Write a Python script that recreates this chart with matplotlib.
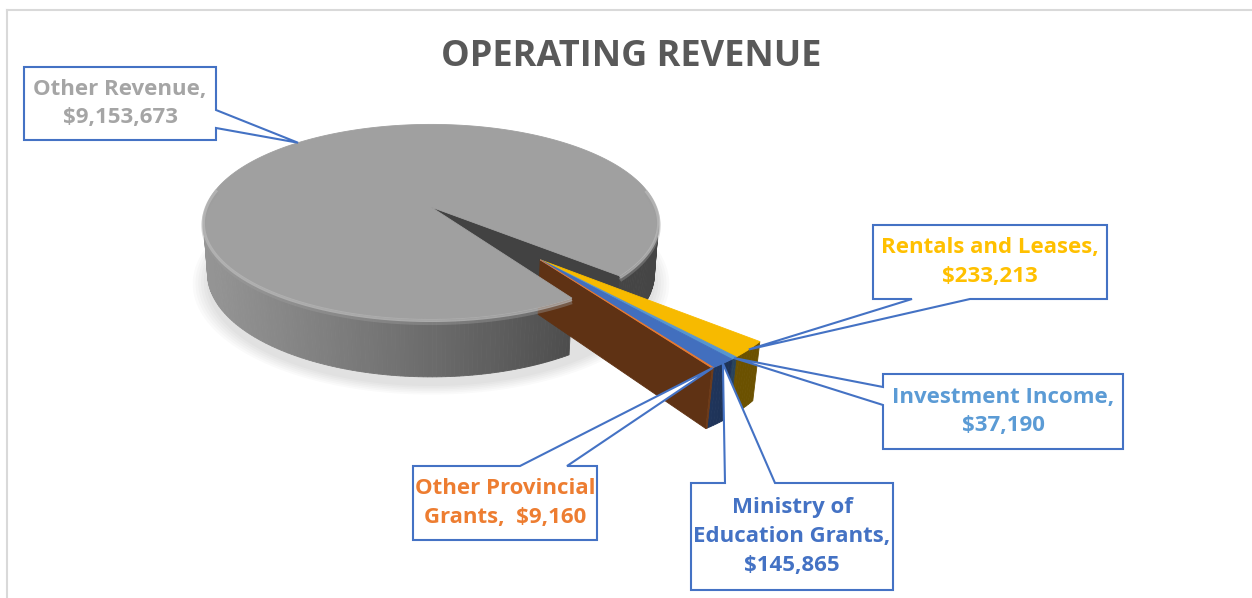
import numpy as np
import matplotlib.pyplot as plt
from matplotlib.patches import Polygon
from matplotlib.colors import to_rgb

# data, in the order Excel plots it (clockwise from the first slice angle)
categories = ["Ministry of Education Grants", "Other Provincial Grants", "Other Revenue",
              "Rentals and Leases", "Investment Income"]
values = [145865, 9160, 9153673, 233213, 37190]
colors = ["#4472C4", "#ED7D31", "#A5A5A5", "#FFC000", "#5B9BD5"]
label_colors = ["#4472C4", "#ED7D31", "#A5A5A5", "#FFC000", "#5B9BD5"]
label_fmt = ["Ministry of\nEducation Grants,\n{}", "Other Provincial\nGrants,  {}",
             "Other Revenue,\n{}", "Rentals and Leases,\n{}", "Investment Income,\n{}"]
explode = [0.68, 0.68, 0.0, 0.68, 0.68]
first_slice_angle = 141  # degrees clockwise from 12 o'clock

# callout boxes (pixels): box, side of the pointer, pointer base
boxes = [((691, 483, 893, 590), "top", (725, 775)),
         ((413, 466, 597, 540), "top", (520, 567)),
         ((24, 67, 216, 140), "right", (110, 128)),
         ((873, 225, 1107, 299), "bottom", (912, 970)),
         ((883, 374, 1123, 449), "left", (387, 405))]

W, HGT = 1252, 598
fig = plt.figure(figsize=(W / 100, HGT / 100), dpi=100)
ax = fig.add_axes([0, 0, 1, 1])
ax.set_xlim(0, W)
ax.set_ylim(HGT, 0)
ax.axis("off")

# simple perspective camera
CX, CY = 431, 207
F, D = 1350, 6.0
elev = np.radians(25)
S, C = np.sin(elev), np.cos(elev)
DEPTH = 0.256
CAM = np.array([0, -D * C, D * S])


def proj(X, Y, Z):
    d = D + Y * C - Z * S
    return CX + F * X / d, CY - F * (Y * S + Z * C) / d


def shade(col, k):
    r, g, b = to_rgb(col)
    return (min(r * k, 1), min(g * k, 1), min(b * k, 1))


def wall_factor(phi):
    return max(0.42, 0.58 + 0.35 * (-0.9 * np.cos(phi) - 0.2 * np.sin(phi)))


def visible(normal, point):
    return np.dot(normal, CAM - np.asarray(point)) > 0


frac = np.array(values) / sum(values)
cum = np.concatenate([[0], np.cumsum(frac)])
start = np.radians(90 - first_slice_angle)
a_hi = start - 2 * np.pi * cum[:-1]
a_lo = start - 2 * np.pi * cum[1:]
n = len(values)

# exploded slices move away from the big slice
big = int(np.argmax(values))
ex_dir = (a_hi[big] + a_lo[big]) / 2 + np.pi
offsets = [(e * np.cos(ex_dir), e * np.sin(ex_dir)) for e in explode]

# faint shadow under the pie
t = np.linspace(0, 2 * np.pi, 200)
for k in range(6):
    rr = 1.0 + 0.012 * k
    xs, ys = proj(rr * np.cos(t), rr * np.sin(t) - 0.03, -DEPTH)
    ax.add_patch(Polygon(np.column_stack([xs, ys + 5]), closed=True,
                         fc="black", ec="none", alpha=0.018, zorder=1))


def slice_depth(i):
    ox, oy = offsets[i]
    m = (a_hi[i] + a_lo[i]) / 2
    return D + (oy + np.sin(m)) * C


order = sorted(range(n), key=lambda i: (explode[i] > 0, -slice_depth(i)))
arcs = {}

# pass 1: side walls
z = 2
for i in order:
    ox, oy = offsets[i]
    col = colors[i]
    steps = max(2, int(np.ceil(np.degrees(a_hi[i] - a_lo[i]))) + 1)
    arc = np.linspace(a_hi[i], a_lo[i], steps)
    arcs[i] = arc
    faces = []
    for p0, p1 in zip(arc[:-1], arc[1:]):
        pm = (p0 + p1) / 2
        nrm = np.array([np.cos(pm), np.sin(pm), 0])
        pt = [ox + np.cos(pm), oy + np.sin(pm), -DEPTH / 2]
        if not visible(nrm, pt):
            continue
        qx, qy = proj(np.array([ox + np.cos(p0), ox + np.cos(p1), ox + np.cos(p1), ox + np.cos(p0)]),
                      np.array([oy + np.sin(p0), oy + np.sin(p1), oy + np.sin(p1), oy + np.sin(p0)]),
                      np.array([0, 0, -DEPTH, -DEPTH]))
        dpt = D + pt[1] * C - pt[2] * S
        faces.append((dpt, np.column_stack([qx, qy]), shade(col, wall_factor(pm))))
    # radial walls, only where the neighbour is split off
    for phi, nb, sgn in ((a_hi[i], (i - 1) % n, 1), (a_lo[i], (i + 1) % n, -1)):
        if explode[nb] == explode[i]:
            continue
        nrm = sgn * np.array([-np.sin(phi), np.cos(phi), 0])
        pt = [ox + 0.5 * np.cos(phi), oy + 0.5 * np.sin(phi), -DEPTH / 2]
        if not visible(nrm, pt):
            continue
        qx, qy = proj(np.array([ox, ox + np.cos(phi), ox + np.cos(phi), ox]),
                      np.array([oy, oy + np.sin(phi), oy + np.sin(phi), oy]),
                      np.array([0, 0, -DEPTH, -DEPTH]))
        dpt = D + pt[1] * C - pt[2] * S
        faces.append((dpt, np.column_stack([qx, qy]), shade(col, 0.4)))
    faces.sort(key=lambda f: -f[0])
    for _, poly, fc in faces:
        ax.add_patch(Polygon(poly, closed=True, fc=fc, ec=fc, lw=0.6, zorder=z))
    z += 0.01

# pass 2: top faces, the whole slice last so it hides the split-off walls near the centre
for i in sorted(order, key=lambda i: explode[i] == 0):
    ox, oy = offsets[i]
    arc = arcs[i]
    tx, ty = proj(np.concatenate([[ox], ox + np.cos(arc)]),
                  np.concatenate([[oy], oy + np.sin(arc)]), 0)
    top_col = shade(colors[i], 0.97)
    ax.add_patch(Polygon(np.column_stack([tx, ty]), closed=True, fc=top_col, ec=top_col,
                         lw=0.6, zorder=z))
    if explode[i] == 0:
        # bevel highlight along the front rim, split into runs
        mask = np.sin(arc) < 0.2
        runs = np.split(np.arange(len(arc)), np.where(np.diff(mask.astype(int)) != 0)[0] + 1)
        for r in runs:
            if len(r) < 2 or not mask[r[0]]:
                continue
            fa = arc[r]
            hx, hy = proj(ox + np.cos(fa), oy + np.sin(fa), 0)
            ax.plot(hx, hy + 1.5, color=shade(colors[i], 1.12), lw=2.2, alpha=0.75,
                    zorder=z + 0.005, solid_capstyle="butt")
            ax.plot(hx, hy + 4, color=shade(colors[i], 0.95), lw=3, alpha=0.4,
                    zorder=z + 0.004, solid_capstyle="butt")
    z += 0.01


def callout(box, side, base, tip, text, color):
    x0, y0, x1, y1 = box
    b0, b1 = base
    tx, ty = tip
    if side == "top":
        pts = [(x0, y0), (b0, y0), (tx, ty), (b1, y0), (x1, y0), (x1, y1), (x0, y1)]
    elif side == "bottom":
        pts = [(x0, y0), (x1, y0), (x1, y1), (b1, y1), (tx, ty), (b0, y1), (x0, y1)]
    elif side == "left":
        pts = [(x0, y0), (x1, y0), (x1, y1), (x0, y1), (x0, b1), (tx, ty), (x0, b0)]
    else:
        pts = [(x0, y0), (x1, y0), (x1, b0), (tx, ty), (x1, b1), (x1, y1), (x0, y1)]
    ax.add_patch(Polygon(pts, closed=True, fc="white", ec="#4472C4", lw=1.5, zorder=10))
    ax.text((x0 + x1) / 2, (y0 + y1) / 2, text, ha="center", va="center",
            multialignment="center", fontsize=16, fontweight="bold", color=color,
            family=["Open Sans", "DejaVu Sans"], linespacing=1.5, zorder=11)


for i in range(n):
    ox, oy = offsets[i]
    m = (a_hi[i] + a_lo[i]) / 2
    tip = proj(ox + np.cos(m), oy + np.sin(m), 0)
    box, side, base = boxes[i]
    callout(box, side, base, tip, label_fmt[i].format(f"${values[i]:,}"), label_colors[i])

ax.text(631, 57, "OPERATING REVENUE", ha="center", va="center", fontsize=26,
        fontweight="bold", color="#595959", family=["Open Sans", "DejaVu Sans"])

# chart area border (only top and left show)
ax.plot([6.5, W], [9.5, 9.5], color="#D9D9D9", lw=1.5, zorder=0)
ax.plot([6.5, 6.5], [9.5, HGT], color="#D9D9D9", lw=1.5, zorder=0)

fig.savefig("out.png", dpi=100)
